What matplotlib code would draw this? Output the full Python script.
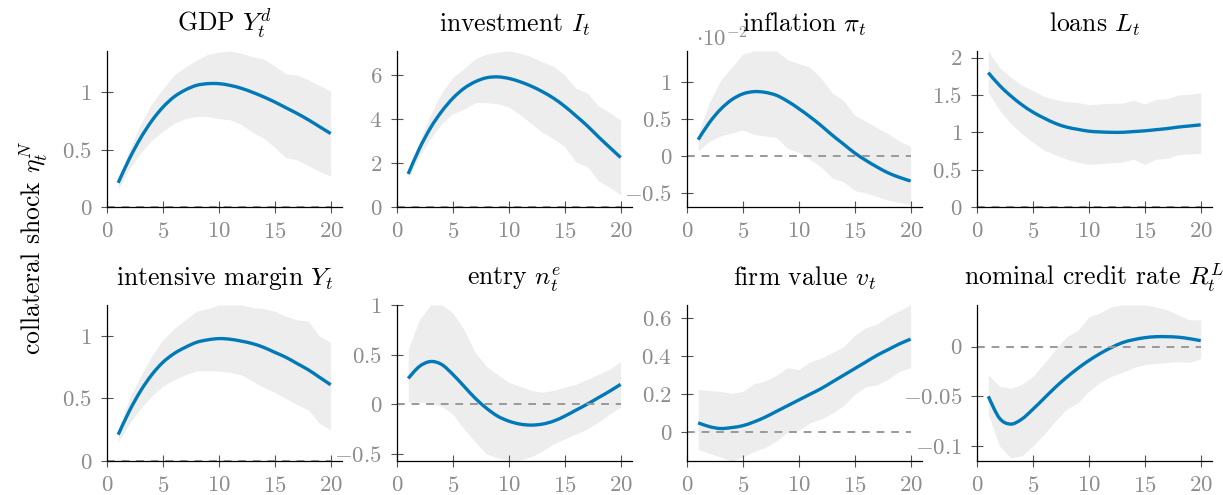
import numpy as np
import matplotlib
matplotlib.use("Agg")
import matplotlib.pyplot as plt
from matplotlib.ticker import FuncFormatter
from matplotlib.path import Path
from matplotlib.patches import PathPatch

plt.rcParams['font.family'] = 'serif'
plt.rcParams['font.serif'] = ['cmr10', 'DejaVu Serif']
plt.rcParams['mathtext.fontset'] = 'cm'
plt.rcParams['axes.formatter.use_mathtext'] = True

# horizon
periods = list(range(1, 21))

titles = [r"GDP $Y_t^d$", r"investment $I_t$", r"inflation $\pi_t$", r"loans $L_t$",
          r"intensive margin $Y_t$", r"entry $n_t^e$", r"firm value $v_t$",
          r"nominal credit rate $R_t^L$"]

# median responses and bands (inflation in units of 1e-2)
gdp_mid = [0.21, 0.42, 0.60, 0.75, 0.87, 0.96, 1.02, 1.06, 1.075, 1.075, 1.06, 1.035, 1.00, 0.96, 0.915, 0.865, 0.815, 0.76, 0.70, 0.64]
gdp_hi = [0.24, 0.50, 0.72, 0.90, 1.03, 1.15, 1.22, 1.28, 1.33, 1.35, 1.36, 1.34, 1.31, 1.29, 1.23, 1.16, 1.15, 1.11, 1.06, 1.01]
gdp_lo = [0.15, 0.33, 0.47, 0.58, 0.66, 0.73, 0.77, 0.79, 0.79, 0.77, 0.76, 0.72, 0.65, 0.60, 0.52, 0.43, 0.41, 0.36, 0.31, 0.27]

inv_mid = [1.5, 2.65, 3.6, 4.35, 4.95, 5.4, 5.7, 5.88, 5.92, 5.85, 5.7, 5.5, 5.25, 4.95, 4.58, 4.15, 3.7, 3.2, 2.72, 2.25]
inv_hi = [1.6, 3.0, 4.2, 5.2, 5.9, 6.3, 6.75, 6.95, 7.05, 7.1, 7.0, 6.85, 6.6, 6.4, 6.0, 5.4, 5.2, 4.6, 4.3, 3.95]
inv_lo = [1.3, 2.3, 3.1, 3.8, 4.25, 4.45, 4.75, 4.75, 4.7, 4.55, 4.2, 3.8, 3.4, 3.1, 2.75, 2.05, 1.85, 1.2, 0.9, 0.55]

infl_mid = [0.22, 0.45, 0.63, 0.76, 0.84, 0.87, 0.86, 0.82, 0.74, 0.64, 0.53, 0.41, 0.28, 0.16, 0.04, -0.06, -0.15, -0.23, -0.29, -0.34]
infl_hi = [0.30, 0.72, 1.02, 1.20, 1.38, 1.42, 1.42, 1.42, 1.30, 1.25, 1.20, 1.05, 0.85, 0.75, 0.55, 0.47, 0.38, 0.30, 0.20, 0.13]
infl_lo = [0.07, 0.20, 0.27, 0.31, 0.35, 0.29, 0.27, 0.25, 0.10, 0.05, -0.05, -0.15, -0.30, -0.35, -0.47, -0.50, -0.55, -0.60, -0.63, -0.66]

loans_mid = [1.8, 1.63, 1.49, 1.37, 1.27, 1.19, 1.12, 1.07, 1.04, 1.015, 1.005, 1.0, 1.0, 1.01, 1.02, 1.035, 1.05, 1.07, 1.085, 1.1]
loans_hi = [2.09, 1.87, 1.74, 1.63, 1.56, 1.48, 1.44, 1.41, 1.40, 1.37, 1.38, 1.39, 1.39, 1.43, 1.38, 1.44, 1.45, 1.50, 1.51, 1.53]
loans_lo = [1.53, 1.30, 1.12, 0.98, 0.87, 0.76, 0.70, 0.64, 0.60, 0.57, 0.58, 0.59, 0.60, 0.64, 0.57, 0.64, 0.65, 0.70, 0.71, 0.72]

int_mid = [0.21, 0.40, 0.56, 0.69, 0.79, 0.86, 0.91, 0.95, 0.97, 0.98, 0.975, 0.96, 0.94, 0.91, 0.87, 0.83, 0.78, 0.73, 0.67, 0.61]
int_hi = [0.25, 0.50, 0.68, 0.84, 0.97, 1.06, 1.13, 1.20, 1.22, 1.25, 1.25, 1.25, 1.23, 1.22, 1.20, 1.16, 1.13, 1.12, 1.00, 0.95]
int_lo = [0.15, 0.30, 0.42, 0.52, 0.60, 0.65, 0.69, 0.72, 0.72, 0.72, 0.71, 0.69, 0.64, 0.59, 0.55, 0.50, 0.45, 0.41, 0.30, 0.25]

entry_mid = [0.26, 0.38, 0.43, 0.40, 0.30, 0.18, 0.06, -0.04, -0.12, -0.17, -0.20, -0.21, -0.20, -0.17, -0.12, -0.06, 0.0, 0.065, 0.13, 0.20]
entry_hi = [0.55, 0.85, 1.0, 1.0, 0.92, 0.75, 0.52, 0.38, 0.30, 0.22, 0.18, 0.14, 0.12, 0.14, 0.17, 0.20, 0.25, 0.30, 0.35, 0.43]
entry_lo = [0.02, 0.02, 0.01, -0.02, -0.10, -0.25, -0.38, -0.50, -0.54, -0.56, -0.56, -0.53, -0.47, -0.40, -0.35, -0.30, -0.25, -0.18, -0.10, -0.03]

fv_mid = [0.05, 0.03, 0.02, 0.025, 0.035, 0.055, 0.08, 0.11, 0.14, 0.17, 0.20, 0.23, 0.265, 0.30, 0.335, 0.37, 0.405, 0.435, 0.465, 0.49]
fv_hi = [0.225, 0.22, 0.215, 0.205, 0.215, 0.255, 0.27, 0.30, 0.34, 0.33, 0.37, 0.39, 0.42, 0.45, 0.51, 0.55, 0.57, 0.61, 0.64, 0.67]
fv_lo = [-0.09, -0.11, -0.13, -0.15, -0.13, -0.10, -0.08, -0.045, 0.0, 0.01, 0.05, 0.07, 0.10, 0.14, 0.20, 0.24, 0.25, 0.28, 0.32, 0.34]

rl_mid = [-0.05, -0.072, -0.078, -0.073, -0.063, -0.052, -0.041, -0.031, -0.022, -0.014, -0.007, -0.001, 0.004, 0.007, 0.009, 0.010, 0.010, 0.0095, 0.008, 0.006]
rl_hi = [-0.028, -0.040, -0.042, -0.038, -0.030, -0.017, -0.003, 0.010, 0.016, 0.030, 0.034, 0.040, 0.042, 0.042, 0.042, 0.040, 0.037, 0.032, 0.027, 0.027]
rl_lo = [-0.068, -0.100, -0.112, -0.110, -0.100, -0.088, -0.075, -0.063, -0.057, -0.045, -0.036, -0.030, -0.026, -0.021, -0.018, -0.017, -0.016, -0.015, -0.016, -0.012]

mids = [gdp_mid, inv_mid, infl_mid, loans_mid, int_mid, entry_mid, fv_mid, rl_mid]
his = [gdp_hi, inv_hi, infl_hi, loans_hi, int_hi, entry_hi, fv_hi, rl_hi]
los = [gdp_lo, inv_lo, infl_lo, loans_lo, int_lo, entry_lo, fv_lo, rl_lo]

ylims = [(0, 1.36), (0, 7.1), (-0.69, 1.42), (0, 2.09),
         (0, 1.25), (-0.57, 1.0), (-0.15, 0.67), (-0.115, 0.042)]
yticks = [[0, 0.5, 1], [0, 2, 4, 6], [-0.5, 0, 0.5, 1], [0, 0.5, 1, 1.5, 2],
          [0, 0.5, 1], [-0.5, 0, 0.5, 1], [0, 0.2, 0.4, 0.6], [-0.1, -0.05, 0]]

blue = '#0079B9'
band = '#EDEDED'
grey = '#8C8C8C'


def smooth_path(x, y):
    # pgfplots-like "smooth" line: cubic bezier through the points
    p = np.column_stack([x, y]).astype(float)
    ext = np.vstack([p[0], p, p[-1]])
    verts = [p[0]]
    codes = [Path.MOVETO]
    for k in range(len(p) - 1):
        c1 = ext[k + 1] + (ext[k + 2] - ext[k]) / 6
        c2 = ext[k + 2] - (ext[k + 3] - ext[k + 1]) / 6
        verts += [c1, c2, p[k + 1]]
        codes += [Path.CURVE4] * 3
    return Path(verts, codes)


fig = plt.figure(figsize=(12.23, 4.95), dpi=100)

lefts = [0.0875, 0.3246, 0.5617, 0.7989]
bottoms = [0.582, 0.069]
w, h = 0.192, 0.315

for i in range(8):
    r, c = divmod(i, 4)
    ax = fig.add_axes([lefts[c], bottoms[r], w, h])
    ax.fill_between(periods, los[i], his[i], color=band, lw=0)
    ax.hlines(0, 0, 20, colors='#999999', linestyles=(0, (4, 3.5)), lw=1.4)
    ax.add_patch(PathPatch(smooth_path(periods, mids[i]), fill=False,
                           edgecolor=blue, lw=2.4, capstyle='butt'))
    ax.set_xlim(0, 21)
    ax.set_ylim(*ylims[i])
    ax.set_xticks([0, 5, 10, 15, 20])
    ax.set_yticks(yticks[i])
    ax.xaxis.set_major_formatter(FuncFormatter(lambda v, p: f'${v:g}$'))
    ax.yaxis.set_major_formatter(FuncFormatter(lambda v, p: f'${v:g}$'))
    for s in ['top', 'right']:
        ax.spines[s].set_visible(False)
    for s in ['left', 'bottom']:
        ax.spines[s].set_linewidth(0.9)
    ax.tick_params(direction='inout', length=8.5, width=0.8, color='#555555',
                   labelcolor=grey, labelsize=16.5, pad=6.5)
    ax.set_title(titles[i], fontsize=18.5, pad=14)
    if i == 2:
        ax.text(0.04, 1.0, r'$\cdot 10^{-2}$', transform=ax.transAxes,
                fontsize=16.5, color=grey, va='bottom', ha='left')

fig.text(0.028, 0.5, r'collateral shock $\eta_t^N$', rotation=90,
         fontsize=18.5, va='center', ha='center')

fig.savefig('out.png', dpi=100)
